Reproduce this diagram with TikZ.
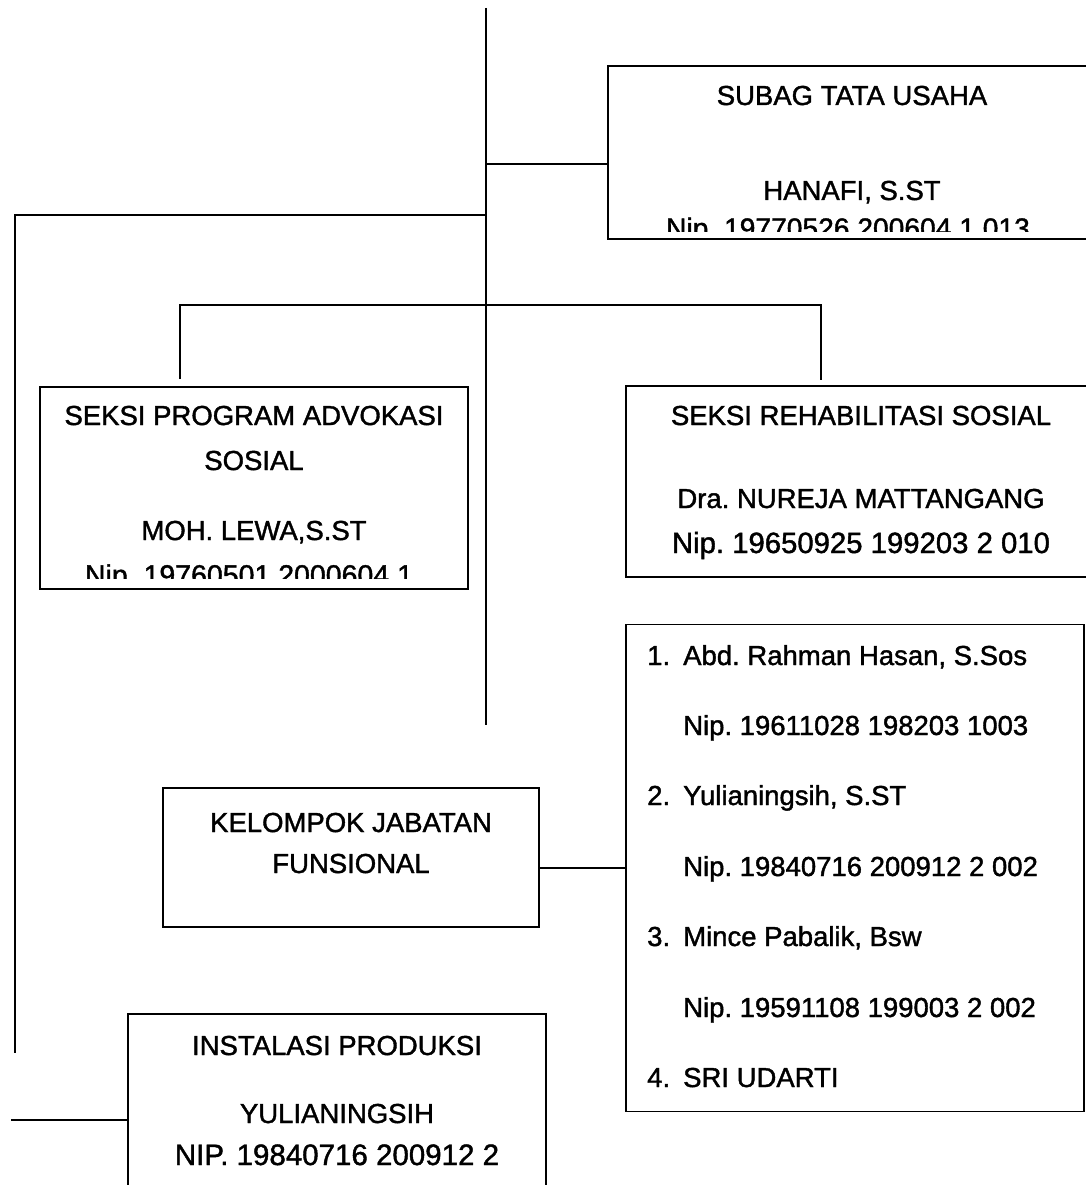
\documentclass[tikz,border=0pt]{standalone}
\usepackage{fontspec}
\setmainfont{Liberation Sans}
\newfontfamily\hurufTebal{Liberation Sans}[FakeBold=1.4]
\usepackage{tikz}
\usetikzlibrary{positioning}
\frenchspacing

\begin{document}
\begin{tikzpicture}[x=1pt, y=-1pt]
        \tikzstyle{kotak} = [draw, line width=1.7pt, rectangle, inner sep=0pt]
        \tikzstyle{teks} = [anchor=base, inner sep=0pt, font=\hurufTebal\fontsize{27.5}{33}\selectfont]
        \tikzstyle{teksNip} = [anchor=base, inner sep=0pt, font=\hurufTebal\fontsize{29.3}{35}\selectfont]
        \tikzstyle{daftar} = [anchor=base west, inner sep=0pt, font=\hurufTebal\fontsize{27.5}{33}\selectfont]
        \tikzstyle{garis} = [line width=1.7pt]

        % Batas gambar
        \clip (0, 0) rectangle (1086, 1185);

        % Kotak-kotak
        \node[kotak, minimum width=488pt, minimum height=173pt](subag) at (852, 152.5) {};
        \node[kotak, minimum width=428pt, minimum height=202pt](program) at (254, 488) {};
        \node[kotak, minimum width=470pt, minimum height=191pt](rehab) at (861, 481.5) {};
        \node[kotak, minimum width=458pt, minimum height=487pt](anggota) at (855, 868) {};
        \node[kotak, minimum width=376pt, minimum height=139pt](kelompok) at (351, 857.5) {};
        \node[kotak, minimum width=418pt, minimum height=186pt](instalasi) at (337, 1107) {};

        % Titik-titik garis
        \coordinate (atas) at (486, 8);
        \coordinate (bawah) at (486, 725);
        \coordinate (cabangTU) at (486, 164);
        \coordinate (cabangKiri) at (486, 215);
        \coordinate (kiri) at (15, 215);
        \coordinate (kiriBawah) at (15, 1053);
        \coordinate (seksiKiri) at (180, 305);
        \coordinate (seksiKanan) at (821, 305);
        \coordinate (ujungProgram) at (180, 379);
        \coordinate (ujungRehab) at (821, 380);
        \coordinate (instalasiKiri) at (11, 1120);

        % Garis-garis
        \draw[garis] (atas) -- (bawah);
        \draw[garis] (cabangTU) -- (cabangTU -| subag.west);
        \draw[garis] (cabangKiri) -- (kiri) -- (kiriBawah);
        \draw[garis] (ujungProgram) -- (seksiKiri) -- (seksiKanan) -- (ujungRehab);
        \draw[garis] (anggota.west -| kelompok.east) -- (anggota.west);
        \draw[garis] (instalasiKiri) -- (instalasiKiri -| instalasi.west);

        % Teks subag
        \begin{scope}
            \clip (608, 66) rectangle (1086, 231);
            \node[teks](subag1) at (852, 105) {SUBAG TATA USAHA};
            \node[teks](subag2) at (852, 200) {HANAFI, S.ST};
            \node[teks, font=\hurufTebal\fontsize{28.2}{34}\selectfont](subag3) at (848, 238) {Nip. 19770526 200604 1 013};
        \end{scope}

        % Teks seksi program
        \begin{scope}
            \clip (40, 387) rectangle (468, 578);
            \node[teks](program1) at (254, 425) {SEKSI PROGRAM ADVOKASI};
            \node[teks](program2) at (254, 470) {SOSIAL};
            \node[teks](program3) at (254, 540) {MOH. LEWA,S.ST};
            \node[teks, font=\hurufTebal\fontsize{28.5}{34}\selectfont](program4) at (249, 585) {Nip. 19760501 2000604 1};
        \end{scope}

        % Teks seksi rehabilitasi
        \node[teks](rehab1) at (861, 425) {SEKSI REHABILITASI SOSIAL};
        \node[teks](rehab2) at (861, 508) {Dra. NUREJA MATTANGANG};
        \node[teksNip](rehab3) at (861, 553) {Nip. 19650925 199203 2 010};

        % Daftar anggota
        \node[daftar](no1) at (647, 665) {1.};
        \node[daftar](nama1) at (683, 665) {Abd. Rahman Hasan, S.Sos};
        \node[daftar](nip1) at (683, 735) {Nip. 19611028 198203 1003};
        \node[daftar](no2) at (647, 805) {2.};
        \node[daftar](nama2) at (683, 805) {Yulianingsih, S.ST};
        \node[daftar](nip2) at (683, 876) {Nip. 19840716 200912 2 002};
        \node[daftar](no3) at (647, 946) {3.};
        \node[daftar](nama3) at (683, 946) {Mince Pabalik, Bsw};
        \node[daftar](nip3) at (683, 1017) {Nip. 19591108 199003 2 002};
        \node[daftar](no4) at (647, 1087) {4.};
        \node[daftar](nama4) at (683, 1087) {SRI UDARTI};

        % Teks kelompok jabatan
        \node[teks](kelompok1) at (351, 832) {KELOMPOK JABATAN};
        \node[teks](kelompok2) at (351, 873) {FUNSIONAL};

        % Teks instalasi
        \node[teks](instalasi1) at (337, 1055) {INSTALASI PRODUKSI};
        \node[teks](instalasi2) at (337, 1123) {YULIANINGSIH};
        \node[teks, font=\hurufTebal\fontsize{29.5}{35}\selectfont](instalasi3) at (337, 1165) {NIP. 19840716 200912 2};
    \end{tikzpicture}
\end{document}
